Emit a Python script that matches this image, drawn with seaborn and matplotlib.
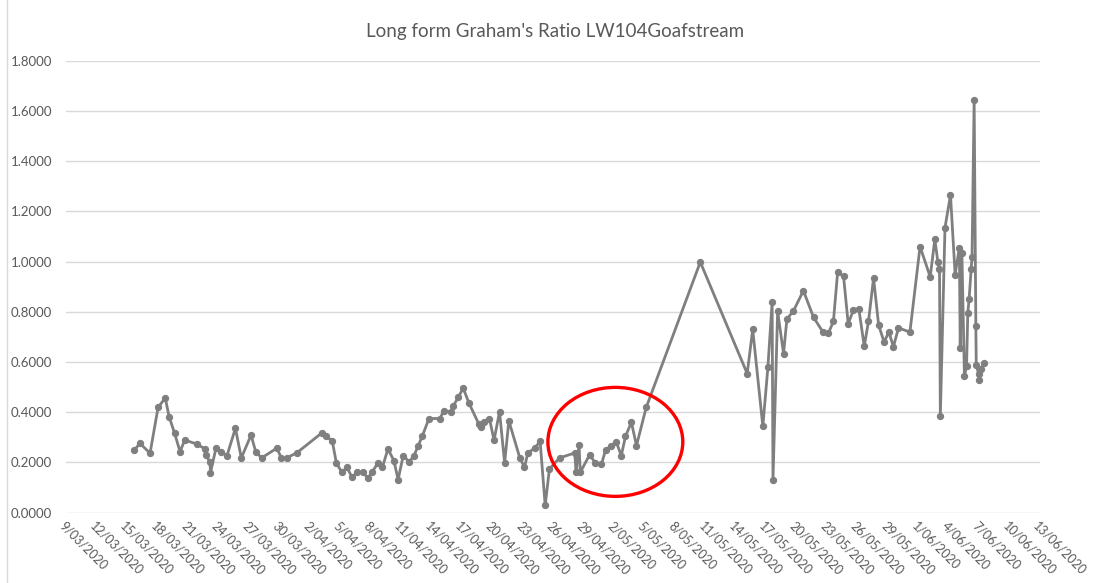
import matplotlib
matplotlib.use("Agg")
import matplotlib.pyplot as plt
import matplotlib.dates as mdates
from matplotlib.patches import Ellipse
from matplotlib.ticker import FuncFormatter, FixedLocator
import numpy as np
import pandas as pd
import seaborn as sns

# Sample timestamps (in recording order)
sample_times = [
    "2020-03-15 18:00", "2020-03-16 07:00", "2020-03-17 07:00", "2020-03-18 02:00",
    "2020-03-18 19:00", "2020-03-19 04:00", "2020-03-19 17:00", "2020-03-20 06:00",
    "2020-03-20 17:00", "2020-03-21 21:00", "2020-03-22 17:00", "2020-03-22 19:00",
    "2020-03-23 05:00", "2020-03-23 06:00", "2020-03-23 19:00", "2020-03-24 08:00",
    "2020-03-24 21:00", "2020-03-25 17:00", "2020-03-26 07:00", "2020-03-27 06:00",
    "2020-03-27 17:00", "2020-03-28 07:00", "2020-03-29 19:00", "2020-03-30 06:00",
    "2020-03-30 18:00", "2020-03-31 18:00", "2020-04-03 05:00", "2020-04-03 15:00",
    "2020-04-04 06:00", "2020-04-04 16:00", "2020-04-05 05:00", "2020-04-05 17:00",
    "2020-04-06 05:00", "2020-04-06 17:00", "2020-04-07 06:00", "2020-04-07 19:00",
    "2020-04-08 05:00", "2020-04-08 18:00", "2020-04-09 05:00", "2020-04-09 18:00",
    "2020-04-10 08:00", "2020-04-10 18:00", "2020-04-11 06:00", "2020-04-11 20:00",
    "2020-04-12 07:00", "2020-04-12 17:00", "2020-04-13 03:00", "2020-04-13 19:00",
    "2020-04-14 21:00", "2020-04-15 06:00", "2020-04-15 22:00", "2020-04-16 04:00",
    "2020-04-16 16:00", "2020-04-17 04:00", "2020-04-17 18:00", "2020-04-18 17:00",
    "2020-04-18 23:00", "2020-04-19 05:00", "2020-04-19 18:00", "2020-04-20 05:00",
    "2020-04-20 18:00", "2020-04-21 06:00", "2020-04-21 16:00", "2020-04-22 18:00",
    "2020-04-23 05:00", "2020-04-23 13:00", "2020-04-24 05:00", "2020-04-24 18:00",
    "2020-04-25 06:00", "2020-04-25 16:00", "2020-04-26 16:00", "2020-04-28 04:00",
    "2020-04-28 07:00", "2020-04-28 14:00", "2020-04-28 17:00", "2020-04-29 15:00",
    "2020-04-30 05:00", "2020-04-30 19:00", "2020-05-01 05:00", "2020-05-01 17:00",
    "2020-05-02 06:00", "2020-05-02 18:00", "2020-05-03 04:00", "2020-05-03 18:00",
    "2020-05-04 06:00", "2020-05-05 05:00", "2020-05-10 13:00", "2020-05-15 04:00",
    "2020-05-15 17:00", "2020-05-16 17:00", "2020-05-17 05:00", "2020-05-17 15:00",
    "2020-05-17 17:00", "2020-05-18 04:00", "2020-05-18 18:00", "2020-05-19 02:00",
    "2020-05-19 17:00", "2020-05-20 17:00", "2020-05-21 17:00", "2020-05-22 15:00",
    "2020-05-23 04:00", "2020-05-23 16:00", "2020-05-24 02:00", "2020-05-24 16:00",
    "2020-05-25 03:00", "2020-05-25 15:00", "2020-05-26 04:00", "2020-05-26 17:00",
    "2020-05-27 03:00", "2020-05-27 15:00", "2020-05-28 03:00", "2020-05-28 16:00",
    "2020-05-29 03:00", "2020-05-29 14:00", "2020-05-30 02:00", "2020-05-31 05:00",
    "2020-06-01 05:00", "2020-06-02 05:00", "2020-06-02 16:00", "2020-06-02 23:00",
    "2020-06-03 03:00", "2020-06-03 05:00", "2020-06-03 16:00", "2020-06-04 05:00",
    "2020-06-04 16:00", "2020-06-05 02:00", "2020-06-05 04:00", "2020-06-05 08:00",
    "2020-06-05 14:00", "2020-06-05 19:00", "2020-06-05 22:00", "2020-06-06 01:00",
    "2020-06-06 06:00", "2020-06-06 08:00", "2020-06-06 13:00", "2020-06-06 17:00",
    "2020-06-06 18:00", "2020-06-07 00:00", "2020-06-07 01:00", "2020-06-07 05:00",
    "2020-06-07 13:00",
]

# Graham's ratio for each sample
grahams_ratio = [
    0.250, 0.276, 0.237, 0.419, 0.457, 0.383, 0.317, 0.243, 0.289, 0.274,
    0.254, 0.230, 0.201, 0.159, 0.257, 0.241, 0.227, 0.336, 0.218, 0.309,
    0.243, 0.218, 0.257, 0.217, 0.218, 0.238, 0.317, 0.304, 0.287, 0.197,
    0.161, 0.180, 0.141, 0.161, 0.161, 0.138, 0.164, 0.197, 0.182, 0.254,
    0.207, 0.132, 0.227, 0.203, 0.225, 0.264, 0.304, 0.375, 0.375, 0.406,
    0.402, 0.423, 0.459, 0.496, 0.435, 0.353, 0.340, 0.360, 0.375, 0.289,
    0.402, 0.198, 0.366, 0.218, 0.181, 0.238, 0.257, 0.284, 0.029, 0.174,
    0.218, 0.238, 0.161, 0.270, 0.161, 0.230, 0.198, 0.192, 0.251, 0.264,
    0.283, 0.227, 0.304, 0.360, 0.267, 0.419, 0.998, 0.554, 0.730, 0.344,
    0.580, 0.839, 0.132, 0.802, 0.633, 0.772, 0.802, 0.884, 0.778, 0.720,
    0.714, 0.762, 0.958, 0.941, 0.752, 0.806, 0.813, 0.663, 0.762, 0.934,
    0.747, 0.679, 0.720, 0.661, 0.736, 0.719, 1.060, 0.939, 1.089, 1.000,
    0.970, 0.386, 1.135, 1.265, 0.948, 1.056, 0.657, 1.034, 0.544, 0.584,
    0.796, 0.849, 0.970, 1.020, 1.642, 0.745, 0.587, 0.551, 0.529, 0.571,
    0.598,
]

axis_start = "2020-03-09"
axis_end = "2020-06-13"
title_text = "Long form Graham's Ratio LW104Goafstream"

df = pd.DataFrame({"time": pd.to_datetime(sample_times), "ratio": grahams_ratio})

sns.set_theme(style="white")
plt.rcParams["font.family"] = ["Lato", "DejaVu Sans"]

text_col = "#595959"
grid_col = "#d9d9d9"
line_col = "#7f7f7f"

fig = plt.figure(figsize=(10.99, 5.83), dpi=100)
ax = fig.add_axes([0.060, 0.1206, 0.886, 0.7753])

sns.lineplot(data=df, x="time", y="ratio", ax=ax, sort=False, estimator=None,
             color=line_col, linewidth=2.0, marker="o", markersize=4.5,
             markeredgecolor=line_col, markerfacecolor=line_col)

# Axis ranges and ticks
t0, t1 = pd.Timestamp(axis_start), pd.Timestamp(axis_end)
ax.set_xlim(t0, t1)
ax.set_ylim(0, 1.8)
ax.set_yticks(np.arange(0, 1.81, 0.2))
ax.yaxis.set_major_formatter(FuncFormatter(lambda v, p: f"{v:.4f}"))

tick_days = pd.date_range(t0, t1, freq="3D")
ax.xaxis.set_major_locator(FixedLocator(mdates.date2num(tick_days)))
ax.xaxis.set_major_formatter(FuncFormatter(
    lambda v, p: (lambda d: f"{d.day}/{d.month:02d}/{d.year}")(mdates.num2date(v))))

for lbl in ax.get_xticklabels():
    lbl.set_rotation(-45)
    lbl.set_ha("left")
    lbl.set_va("top")
    lbl.set_rotation_mode("anchor")

ax.tick_params(axis="y", length=0, labelsize=9.5, labelcolor=text_col, pad=10)
ax.tick_params(axis="x", length=0, labelsize=9, labelcolor=text_col, pad=5)

ax.grid(axis="y", color=grid_col, linewidth=1.0)
ax.grid(axis="x", visible=False)
for s in ax.spines.values():
    s.set_visible(False)

ax.set_xlabel("")
ax.set_ylabel("")

# Highlight around early-May readings
ax.add_patch(Ellipse((mdates.date2num(pd.Timestamp("2020-05-02 04:00")), 0.282),
                     width=13.3, height=0.434, fill=False, edgecolor="#ff0000",
                     linewidth=2.4, zorder=5))

fig.text(0.505, 0.946, title_text, ha="center", va="center",
         fontsize=13.5, color=text_col)

# Chart area frame edge on the left
fig.add_artist(plt.Line2D([0.0066, 0.0066], [0.0, 1.0], color=grid_col,
                          linewidth=1.0, transform=fig.transFigure))

fig.savefig("out.png", dpi=100, facecolor="white")
